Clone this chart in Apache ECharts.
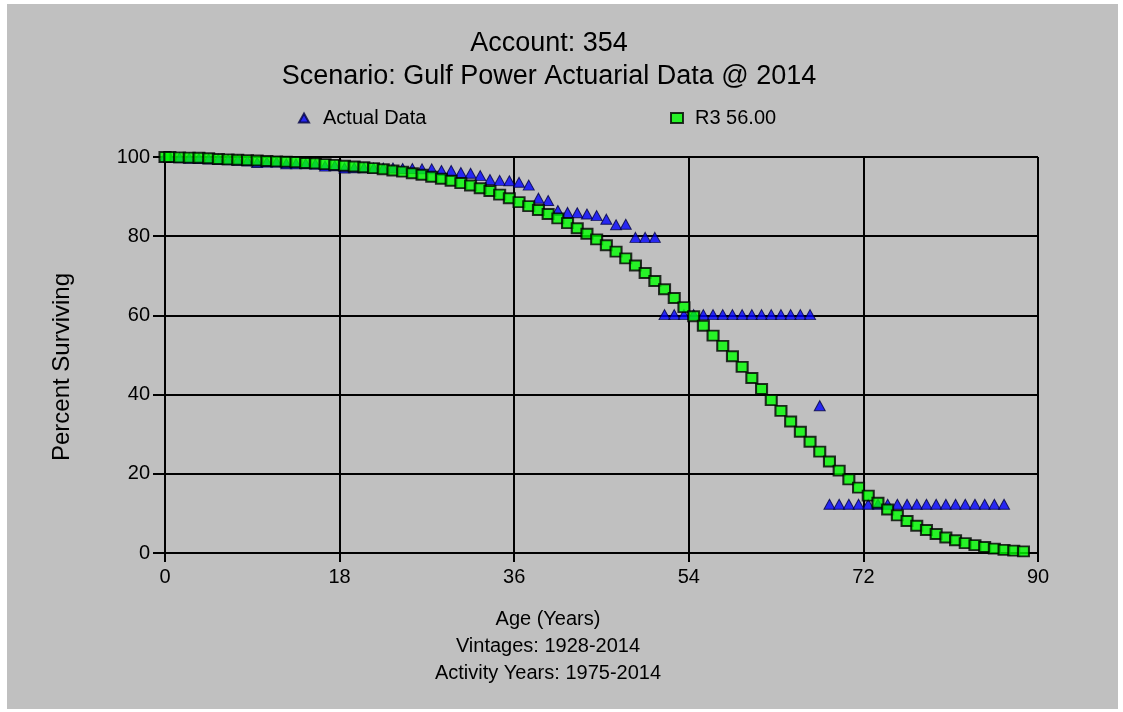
<!DOCTYPE html>
<html>
<head>
<meta charset="utf-8">
<script src="https://cdn.jsdelivr.net/npm/echarts@6/dist/echarts.min.js"></script>
<style>
html,body{margin:0;padding:0;background:#fff;}
#bg{position:absolute;left:7px;top:4px;width:1111px;height:705px;background:#c0c0c0;}
#chart{position:absolute;left:0;top:0;width:1123px;height:712px;}
</style>
</head>
<body>
<div id="bg"></div>
<div id="chart"></div>
<script>
const titleLines = ['Account: 354', 'Scenario: Gulf Power Actuarial Data @ 2014'];
const xAxisLines = ['Age (Years)', 'Vintages: 1928-2014', 'Activity Years: 1975-2014'];
const yAxisName = 'Percent Surviving';
const seriesNames = ['Actual Data', 'R3 56.00'];
const xTicks = [0, 18, 36, 54, 72, 90];
const yTicks = [0, 20, 40, 60, 80, 100];

const ages = [0, 0.5, 1.5, 2.5, 3.5, 4.5, 5.5, 6.5, 7.5, 8.5, 9.5, 10.5, 11.5, 12.5, 13.5, 14.5,
  15.5, 16.5, 17.5, 18.5, 19.5, 20.5, 21.5, 22.5, 23.5, 24.5, 25.5, 26.5, 27.5, 28.5, 29.5,
  30.5, 31.5, 32.5, 33.5, 34.5, 35.5, 36.5, 37.5, 38.5, 39.5, 40.5, 41.5, 42.5, 43.5, 44.5,
  45.5, 46.5, 47.5, 48.5, 49.5, 50.5, 51.5, 52.5, 53.5, 54.5, 55.5, 56.5, 57.5, 58.5, 59.5,
  60.5, 61.5, 62.5, 63.5, 64.5, 65.5, 66.5, 67.5, 68.5, 69.5, 70.5, 71.5, 72.5, 73.5, 74.5,
  75.5, 76.5, 77.5, 78.5, 79.5, 80.5, 81.5, 82.5, 83.5, 84.5, 85.5, 86.5, 87.5, 88.5];

const actualData = [100, 99.9, 99.8, 99.7, 99.6, 99.5, 99.4, 99.3, 99.2, 99.0, 98.6, 98.7, 98.7, 98.3, 98.3, 98.3,
  98.2, 97.7, 97.8, 97.2, 97.3, 97.3, 97.2, 97.2, 97.2, 97.1, 97.1, 97.0, 97.0, 96.6, 96.6,
  96.1, 95.9, 95.3, 94.3, 94.1, 94.0, 93.6, 92.9, 89.6, 89.0, 86.5, 86.0, 85.9, 85.6, 85.2,
  84.3, 82.9, 83.0, 79.7, 79.7, 79.7, 60.2, 60.2, 60.2, 60.2, 60.2, 60.2, 60.2, 60.2, 60.2,
  60.2, 60.2, 60.2, 60.2, 60.2, 60.2, 60.2, 37.2, 12.3, 12.3, 12.3, 12.3, 12.3, 12.3, 12.3,
  12.3, 12.3, 12.3, 12.3, 12.3, 12.3, 12.3, 12.3, 12.3, 12.3, 12.3, 12.3];

const r3Data = [100, 100, 99.9, 99.85, 99.8, 99.7, 99.5, 99.4, 99.3, 99.2, 99.1, 99.0, 98.9, 98.8, 98.7, 98.5,
  98.4, 98.2, 98.0, 97.8, 97.6, 97.4, 97.2, 96.9, 96.6, 96.3, 95.9, 95.5, 95.0, 94.5, 94.0,
  93.4, 92.8, 92.1, 91.4, 90.5, 89.6, 88.6, 87.6, 86.6, 85.6, 84.5, 83.3, 82.0, 80.6, 79.2,
  77.7, 76.1, 74.4, 72.6, 70.7, 68.7, 66.6, 64.4, 62.1, 59.8, 57.4, 54.9, 52.3, 49.7, 47.0,
  44.2, 41.4, 38.6, 35.9, 33.2, 30.6, 28.1, 25.6, 23.1, 20.8, 18.6, 16.5, 14.5, 12.7, 11.0,
  9.5, 8.1, 6.9, 5.8, 4.8, 3.9, 3.2, 2.5, 2.0, 1.5, 1.1, 0.8, 0.6, 0.4];

const FONT = '"Liberation Sans", Arial, sans-serif';
const pairs = (vals) => vals.map((v, i) => [ages[i], v]);

const chart = echarts.init(document.getElementById('chart'), null, {renderer: 'canvas'});
const textEl = (txt, x, y, size) => ({
  type: 'text', x: x, y: y, silent: true,
  style: {text: txt, fill: '#000', font: size + 'px ' + FONT, textAlign: 'center', textVerticalAlign: 'middle'}
});

chart.setOption({
  backgroundColor: 'transparent',
  animation: false,
  graphic: [
    textEl(titleLines[0], 549, 44, 27),
    textEl(titleLines[1], 549, 77, 27),
    textEl(xAxisLines[0], 548, 619, 20),
    textEl(xAxisLines[1], 548, 646, 20),
    textEl(xAxisLines[2], 548, 673, 20),
    {
      type: 'text', x: 62, y: 367, rotation: Math.PI / 2, silent: true,
      style: {text: yAxisName, fill: '#000', font: '24px ' + FONT, textAlign: 'center', textVerticalAlign: 'middle'}
    }
  ],
  legend: [
    {
      data: [{name: seriesNames[0], icon: 'triangle'}],
      left: 293, top: 103, itemWidth: 10, itemHeight: 9,
      textStyle: {fontSize: 20, fontFamily: FONT, color: '#000', padding: [0, 0, 0, 9]}
    },
    {
      data: [{name: seriesNames[1], icon: 'rect'}],
      left: 665, top: 103, itemWidth: 12, itemHeight: 10,
      textStyle: {fontSize: 20, fontFamily: FONT, color: '#000', padding: [0, 0, 0, 7]}
    }
  ],
  grid: {left: 165, right: 85, top: 157, bottom: 159, containLabel: false},
  xAxis: {
    type: 'value', min: xTicks[0], max: xTicks[xTicks.length - 1], interval: 18,
    axisLine: {show: true, lineStyle: {color: '#000', width: 2}},
    axisTick: {show: true, length: 9, lineStyle: {color: '#000', width: 2}},
    axisLabel: {fontSize: 20, fontFamily: FONT, color: '#000', margin: 14},
    splitLine: {show: true, lineStyle: {color: '#000', width: 2}}
  },
  yAxis: {
    type: 'value', min: yTicks[0], max: yTicks[yTicks.length - 1], interval: 20,
    axisLine: {show: true, lineStyle: {color: '#000', width: 2}},
    axisTick: {show: true, length: 12, lineStyle: {color: '#000', width: 2}},
    axisLabel: {fontSize: 20, fontFamily: FONT, color: '#000', margin: 15},
    splitLine: {show: true, lineStyle: {color: '#000', width: 2}}
  },
  series: [
    {
      name: seriesNames[0], type: 'scatter', symbol: 'triangle', symbolSize: [11, 10],
      data: pairs(actualData),
      itemStyle: {color: '#0000ff', borderColor: '#000040', borderWidth: 1},
      z: 2
    },
    {
      name: seriesNames[1], type: 'scatter', symbol: 'rect', symbolSize: [11, 10],
      data: pairs(r3Data),
      itemStyle: {color: '#00ff00', borderColor: '#000', borderWidth: 2},
      z: 3
    }
  ]
});
</script>
</body>
</html>
